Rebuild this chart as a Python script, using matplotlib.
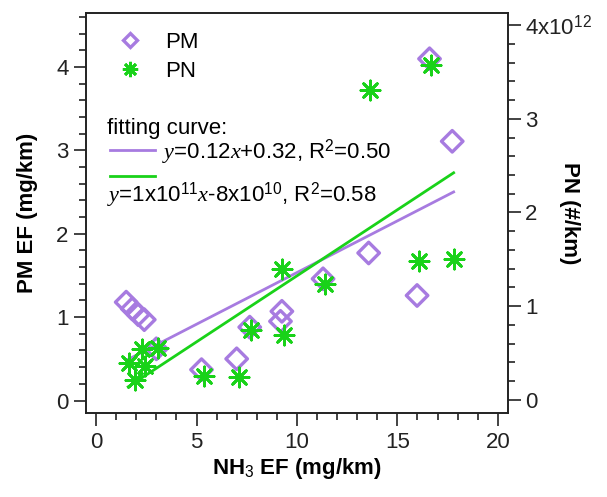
import numpy as np
import matplotlib
matplotlib.use("Agg")
import matplotlib.pyplot as plt
from matplotlib.ticker import MultipleLocator, FixedLocator
from matplotlib.lines import Line2D

plt.rcParams['font.family'] = ['Liberation Sans', 'DejaVu Sans']
plt.rcParams['mathtext.fontset'] = 'custom'
plt.rcParams['mathtext.rm'] = 'Liberation Sans'
plt.rcParams['mathtext.it'] = 'Liberation Serif:italic'
plt.rcParams['mathtext.bf'] = 'Liberation Sans:bold'

# Data
pm_x = [1.5, 1.8, 2.1, 2.4, 3.0, 5.25, 7.0, 7.65, 9.25, 9.18, 11.3, 13.57, 15.98, 16.6, 17.73]
pm_y = [1.18, 1.10, 1.03, 0.97, 0.62, 0.37, 0.50, 0.88, 1.07, 0.95, 1.46, 1.77, 1.26, 4.10, 3.11]
pn_x = [1.62, 1.95, 2.28, 2.45, 3.07, 5.35, 7.12, 7.7, 9.28, 9.35, 11.4, 13.65, 16.07, 16.65, 17.82]
pn_y = [0.39e12, 0.21e12, 0.54e12, 0.36e12, 0.55e12, 0.25e12, 0.24e12, 0.75e12, 1.40e12,
        0.69e12, 1.24e12, 3.31e12, 1.48e12, 3.57e12, 1.50e12]
pm_fit = (0.124, 0.295)
pn_fit = (1.41e11, -8.6e10)
fit_x_range = (1.6, 17.8)

purple = '#a77be0'
green = '#19d219'
FS = 16

fig = plt.figure(figsize=(6.07, 4.97), dpi=100)
ax = fig.add_axes([0.1417, 0.169, 0.695, 0.805])
ax2 = ax.twinx()

fx = np.linspace(fit_x_range[0], fit_x_range[1], 2)
ax.plot(fx, pm_fit[0] * fx + pm_fit[1], color=purple, lw=2)
ax2.plot(fx, pn_fit[0] * fx + pn_fit[1], color=green, lw=2)

ax.scatter(pm_x, pm_y, marker='D', s=120, facecolors='none', edgecolors=purple, linewidths=2.4, zorder=3)
ax2.scatter(pn_x, pn_y, marker=(8, 2, 0), s=190, color=green, linewidths=2.0, zorder=4)

ax.set_xlim(-0.5, 20.5)
ax.set_ylim(-0.15, 4.65)
ax2.set_ylim(-0.14e12, 4.13e12)

ax.xaxis.set_major_locator(MultipleLocator(5))
ax.xaxis.set_minor_locator(MultipleLocator(1))
ax.yaxis.set_major_locator(MultipleLocator(1))
ax.yaxis.set_minor_locator(MultipleLocator(0.2))
ax2.yaxis.set_major_locator(FixedLocator([0, 1e12, 2e12, 3e12, 4e12]))
ax2.yaxis.set_minor_locator(FixedLocator(np.arange(0, 4.01e12, 0.2e12)))
ax2.set_yticklabels(['0', '1', '2', '3', r'4x10$^{12}$'])

for a in (ax, ax2):
    a.tick_params(which='major', direction='out', length=9, width=1.2, labelsize=FS, colors='#222222')
    a.tick_params(which='minor', direction='out', length=5, width=1.2, colors='#222222')
    for s in a.spines.values():
        s.set_linewidth(1.2)
        s.set_color('#222222')
ax.tick_params(axis='x', pad=5)

ax.set_xlabel(r'NH$_3$ EF (mg/km)', fontsize=FS, fontweight='bold', labelpad=2)
ax.set_ylabel('PM EF (mg/km)', fontsize=FS, fontweight='bold')
ax.yaxis.set_label_coords(-0.114, 0.5)
ax2.set_ylabel('PN (#/km)', fontsize=FS, fontweight='bold', rotation=270, va='center')
ax2.yaxis.set_label_coords(1.145, 0.5)

# Legend-like annotations
h1 = Line2D([], [], marker='D', ls='none', markerfacecolor='none', markeredgecolor=purple,
            markeredgewidth=2.4, markersize=7)
h2 = Line2D([], [], marker=(8, 2, 0), ls='none', color=green, markeredgewidth=2.0, markersize=11)
leg = ax.legend([h1, h2], ['PM', 'PN'], loc='upper left', bbox_to_anchor=(0.04, 0.985),
                frameon=False, fontsize=FS, handletextpad=1.0, handlelength=1.2, labelspacing=0.35,
                borderaxespad=0.2)

ax.text(0.05, 0.71, 'fitting curve:', transform=ax.transAxes, fontsize=FS, va='center')
ax.plot([0.057, 0.1635], [0.657, 0.657], transform=ax.transAxes, color=purple, lw=2)
ax.text(0.18, 0.652, r'$y$=0.12$x$+0.32, R$^2$=0.50', transform=ax.transAxes, fontsize=FS, va='center')
ax.plot([0.057, 0.1635], [0.593, 0.593], transform=ax.transAxes, color=green, lw=2)
ax.text(0.05, 0.545, r'$y$=1x10$^{11}$$x$-8x10$^{10}$, R$^2$=0.58', transform=ax.transAxes,
        fontsize=FS, va='center')

fig.savefig('out.png', dpi=100)
